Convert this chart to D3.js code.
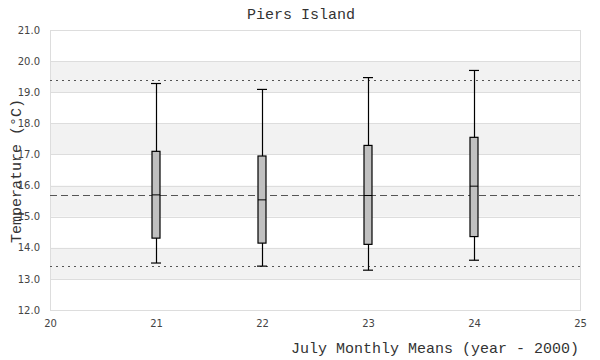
<!DOCTYPE html>
<html><head><meta charset="utf-8">
<script src="https://cdn.jsdelivr.net/npm/d3@7"></script>
<style>body{margin:0;background:#fff}</style>
</head><body>
<svg id="c" width="600" height="360"></svg>
<script>
const years = [21, 22, 23, 24];
const whiskerLow = [13.51, 13.41, 13.28, 13.60];
const q1 = [14.31, 14.15, 14.11, 14.36];
const median = [15.70, 15.54, 15.68, 15.98];
const q3 = [17.10, 16.95, 17.29, 17.55];
const whiskerHigh = [19.28, 19.09, 19.47, 19.70];
const refDotted = [19.38, 13.40];
const refDashed = [15.69];
const yTicks = [12, 13, 14, 15, 16, 17, 18, 19, 20, 21];
const xTicks = [20, 21, 22, 23, 24, 25];
const bands = [[19, 20], [17, 18], [15, 16], [13, 14]];

const svg = d3.select("#c");
const L = 50, R = 580, T = 30, B = 310;
const x = d3.scaleLinear().domain([20, 25]).range([L, R]);
const y = d3.scaleLinear().domain([12, 21]).range([B, T]);

svg.selectAll(".band").data(bands).enter().append("rect")
  .attr("x", L).attr("width", R - L)
  .attr("y", d => y(d[1])).attr("height", d => y(d[0]) - y(d[1]))
  .attr("fill", "#f2f2f2");

svg.selectAll(".grid").data(yTicks).enter().append("line")
  .attr("x1", L).attr("x2", R).attr("y1", d => Math.round(y(d)) + 0.5).attr("y2", d => Math.round(y(d)) + 0.5)
  .attr("stroke", "#dddddd");
svg.append("rect").attr("x", L + 0.5).attr("y", T + 0.5).attr("width", R - L).attr("height", B - T)
  .attr("fill", "none").attr("stroke", "#dddddd");

// reference lines
svg.selectAll(".rdot").data(refDotted).enter().append("line")
  .attr("x1", L).attr("x2", R).attr("y1", d => Math.round(y(d)) + 0.5).attr("y2", d => Math.round(y(d)) + 0.5)
  .attr("stroke", "#555").attr("stroke-dasharray", "2,4");
svg.selectAll(".rdash").data(refDashed).enter().append("line")
  .attr("x1", L).attr("x2", R).attr("y1", d => Math.round(y(d)) + 0.5).attr("y2", d => Math.round(y(d)) + 0.5)
  .attr("stroke", "#555").attr("stroke-dasharray", "7,4");

// axes
const yAxis = svg.append("g").attr("transform", `translate(${L},0)`)
  .call(d3.axisLeft(y).tickValues(yTicks).tickFormat(d3.format(".1f")).tickSize(0).tickPadding(10));
const xAxis = svg.append("g").attr("transform", `translate(0,${B})`)
  .call(d3.axisBottom(x).tickValues(xTicks).tickFormat(d3.format("d")).tickSize(0).tickPadding(10));
[yAxis, xAxis].forEach(a => {
  a.select(".domain").remove();
  a.selectAll("text").attr("fill", "#444").style("font-family", "DejaVu Sans, sans-serif").style("font-size", "10px");
});

// boxes
const bw = 8;
const g = svg.selectAll(".box").data(years.map((yr, i) => ({yr, lo: whiskerLow[i], q1: q1[i], md: median[i], q3: q3[i], hi: whiskerHigh[i]})))
  .enter().append("g");
g.append("line").attr("x1", d => Math.round(x(d.yr)) + 0.5).attr("x2", d => Math.round(x(d.yr)) + 0.5)
  .attr("y1", d => y(d.hi)).attr("y2", d => y(d.lo)).attr("stroke", "#000").attr("stroke-width", 1.2);
g.append("line").attr("x1", d => x(d.yr) - bw / 2 - 1).attr("x2", d => x(d.yr) + bw / 2 + 1)
  .attr("y1", d => y(d.hi)).attr("y2", d => y(d.hi)).attr("stroke", "#000").attr("stroke-width", 1.2);
g.append("line").attr("x1", d => x(d.yr) - bw / 2 - 1).attr("x2", d => x(d.yr) + bw / 2 + 1)
  .attr("y1", d => y(d.lo)).attr("y2", d => y(d.lo)).attr("stroke", "#000").attr("stroke-width", 1.2);
g.append("rect").attr("x", d => x(d.yr) - bw / 2).attr("width", bw)
  .attr("y", d => y(d.q3)).attr("height", d => y(d.q1) - y(d.q3))
  .attr("fill", "#c0c0c0").attr("stroke", "#000").attr("stroke-width", 1.2);
g.append("line").attr("x1", d => x(d.yr) - bw / 2).attr("x2", d => x(d.yr) + bw / 2)
  .attr("y1", d => y(d.md)).attr("y2", d => y(d.md)).attr("stroke", "#000").attr("stroke-width", 1);

// titles
const mono = "Liberation Mono, DejaVu Sans Mono, monospace";
svg.append("text").attr("x", 301).attr("y", 19).attr("text-anchor", "middle")
  .style("font-family", mono).style("font-size", "15px").attr("fill", "#333").text("Piers Island");
svg.append("text").attr("x", 579).attr("y", 353).attr("text-anchor", "end")
  .style("font-family", mono).style("font-size", "15px").attr("fill", "#333").text("July Monthly Means (year - 2000)");
svg.append("text").attr("transform", "translate(21,171) rotate(-90)").attr("text-anchor", "middle")
  .style("font-family", mono).style("font-size", "15px").attr("fill", "#333").text("Temperature (°C)");
</script>
</body></html>
